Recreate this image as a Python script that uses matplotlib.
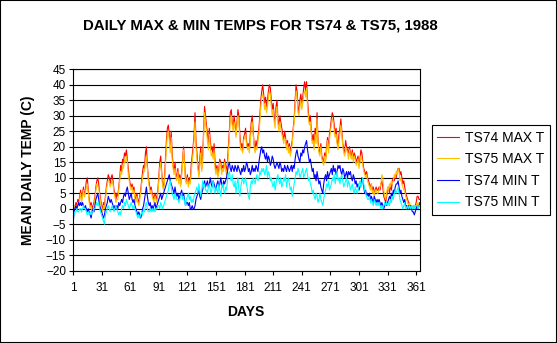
import numpy as np
import matplotlib
matplotlib.use("Agg")
from matplotlib import pyplot as plt
from matplotlib.patches import Rectangle

plt.rcParams["font.family"] = ["Liberation Sans", "DejaVu Sans"]

# daily values, day 1..365
ts74_max = [
    0, 1, 0, 2, 1, 3, 2, 4, 6, 3, 5, 7, 4, 6, 9, 10, 6, 3, 1, 2,
    0, 1, 2, 4, 7, 9, 10, 8, 5, 3, 1, 0, 2, 1, 4, 7, 9, 11, 10, 8,
    10, 11, 9, 6, 5, 3, 5, 4, 7, 10, 14, 12, 16, 15, 18, 17, 19, 16, 13, 10,
    8, 7, 8, 6, 7, 4, 3, 5, 3, 2, 4, 6, 9, 12, 14, 13, 18, 20, 14, 10,
    8, 6, 7, 5, 4, 3, 5, 4, 3, 6, 10, 15, 17, 12, 8, 7, 10, 16, 22, 26,
    27, 24, 20, 25, 18, 14, 12, 15, 11, 10, 13, 9, 11, 8, 12, 16, 20, 15, 10, 9,
    11, 8, 10, 9, 14, 17, 20, 24, 31, 22, 18, 14, 11, 16, 20, 13, 17, 25, 33, 30,
    27, 24, 21, 26, 22, 19, 20, 17, 21, 15, 12, 14, 11, 13, 16, 15, 12, 14, 13, 16,
    14, 12, 15, 20, 25, 31, 32, 28, 26, 30, 27, 24, 28, 32, 30, 24, 20, 21, 19, 23,
    24, 26, 22, 20, 21, 19, 24, 28, 30, 25, 21, 19, 22, 20, 23, 26, 30, 35, 38, 40,
    37, 34, 36, 33, 35, 38, 40, 39, 35, 32, 34, 30, 28, 33, 35, 29, 27, 30, 28, 26,
    24, 22, 25, 23, 20, 22, 19, 21, 18, 20, 22, 26, 29, 35, 40, 38, 33, 31, 35, 37,
    34, 36, 39, 41, 38, 41, 35, 31, 28, 30, 25, 22, 24, 20, 26, 23, 31, 22, 19, 18,
    21, 17, 16, 15, 18, 16, 20, 23, 19, 24, 26, 29, 31, 30, 27, 24, 26, 22, 20, 24,
    26, 29, 25, 21, 19, 18, 22, 20, 19, 18, 20, 18, 17, 19, 16, 18, 17, 15, 16, 17,
    14, 16, 19, 18, 15, 13, 12, 11, 12, 10, 9, 8, 7, 8, 6, 7, 5, 6, 7, 6,
    6, 7, 6, 8, 9, 7, 4, 3, 2, 4, 6, 7, 5, 8, 6, 9, 10, 9, 11, 10,
    12, 13, 13, 11, 12, 10, 8, 9, 7, 5, 4, 3, 2, 1, 1, 1, 0, 1, 0, 1,
    2, 4, 4, 3, 3,
]
ts75_max = [
    -1, 0, 1, 1, 0, 2, 1, 3, 5, 2, 4, 6, 4, 5, 7, 8, 5, 2, 0, 1,
    -1, 0, 1, 3, 6, 8, 7, 7, 4, 2, 0, -1, 1, 0, 3, 6, 8, 9, 9, 7,
    8, 9, 8, 5, 4, 2, 3, 3, 6, 9, 12, 11, 14, 13, 16, 15, 17, 15, 11, 9,
    7, 6, 7, 5, 6, 3, 2, 4, 2, 1, 3, 5, 8, 10, 12, 12, 15, 17, 13, 9,
    7, 5, 6, 4, 3, 2, 4, 3, 2, 5, 9, 13, 15, 11, 7, 6, 9, 14, 20, 24,
    25, 22, 18, 23, 16, 13, 11, 13, 10, 9, 12, 8, 10, 7, 11, 15, 19, 14, 9, 8,
    10, 7, 9, 8, 12, 15, 18, 22, 28, 20, 16, 13, 10, 14, 18, 12, 15, 23, 31, 28,
    25, 22, 19, 24, 20, 17, 18, 16, 19, 13, 11, 13, 10, 12, 15, 14, 11, 13, 12, 15,
    13, 11, 13, 18, 23, 29, 30, 27, 25, 28, 26, 23, 27, 30, 28, 22, 19, 19, 18, 22,
    23, 24, 21, 19, 20, 18, 22, 26, 28, 24, 20, 18, 20, 19, 22, 24, 28, 33, 36, 37,
    35, 32, 34, 31, 33, 36, 38, 37, 33, 30, 32, 28, 26, 31, 33, 27, 25, 28, 26, 24,
    23, 21, 23, 22, 19, 21, 18, 20, 17, 19, 21, 25, 28, 33, 38, 36, 31, 30, 33, 35,
    32, 34, 37, 38, 36, 39, 33, 29, 27, 28, 24, 21, 22, 19, 24, 21, 29, 21, 18, 17,
    20, 16, 15, 14, 17, 15, 19, 22, 18, 22, 25, 27, 29, 28, 25, 23, 24, 21, 19, 22,
    24, 27, 24, 20, 18, 17, 20, 19, 18, 16, 19, 17, 16, 18, 15, 17, 16, 14, 15, 16,
    13, 15, 17, 16, 14, 12, 11, 10, 11, 9, 8, 7, 6, 8, 5, 6, 4, 6, 6, 5,
    5, 6, 7, 8, 11, 10, 6, 4, 3, 5, 7, 6, 8, 7, 9, 8, 9, 11, 10, 12,
    11, 13, 12, 9, 10, 8, 7, 6, 6, 4, 3, 2, 1, 2, 1, 1, 0, 1, 1, 0,
    1, 2, 1, 2, 2,
]
ts74_min = [
    -6, -1, 0, 1, 0, 1, 2, 1, 2, 1, 2, 1, 0, 1, 0, -1, 0, -1, -2, -3,
    -1, 0, -1, 1, 3, 4, 5, 3, 1, 0, -1, -2, -3, -2, 0, 1, 2, 4, 3, 2,
    3, 2, 1, 0, 1, 0, 1, 0, 2, 1, 2, 3, 2, 4, 5, 4, 6, 7, 5, 3,
    4, 5, 3, 2, 3, 1, 0, -1, -2, -1, -2, -3, -2, 0, 1, 3, 5, 7, 4, 2,
    1, 2, 0, 1, 0, 1, 2, 0, 1, 2, 3, 4, 5, 3, 4, 5, 6, 7, 8, 9,
    10, 11, 9, 8, 7, 6, 5, 7, 5, 4, 5, 3, 4, 5, 6, 4, 5, 3, 1, 2,
    2, 1, 2, 0, 0, 1, 0, 0, 1, 3, 4, 5, 6, 4, 3, 5, 6, 8, 9, 7,
    8, 9, 7, 8, 10, 8, 7, 9, 8, 7, 6, 8, 9, 7, 8, 10, 8, 7, 9, 8,
    9, 10, 12, 14, 15, 13, 12, 14, 13, 12, 14, 13, 12, 14, 13, 12, 11, 13, 12, 14,
    12, 13, 15, 14, 12, 13, 11, 12, 14, 12, 13, 12, 14, 13, 12, 15, 17, 19, 20, 18,
    19, 17, 16, 18, 15, 17, 16, 14, 15, 17, 16, 14, 13, 14, 15, 14, 13, 15, 14, 12,
    13, 12, 14, 13, 12, 14, 13, 12, 13, 14, 12, 14, 13, 16, 18, 19, 17, 16, 15, 18,
    17, 19, 18, 20, 21, 22, 19, 17, 15, 16, 14, 12, 13, 10, 11, 9, 12, 10, 8, 9,
    7, 6, 5, 8, 10, 11, 9, 12, 10, 11, 12, 13, 11, 14, 12, 13, 11, 12, 14, 13,
    14, 12, 11, 13, 12, 10, 11, 12, 10, 12, 11, 12, 10, 9, 11, 10, 8, 9, 7, 8,
    6, 7, 8, 10, 9, 7, 5, 6, 4, 5, 4, 5, 3, 4, 3, 2, 4, 3, 2, 3,
    2, 3, 2, 1, 2, 1, 0, 1, 2, 1, 2, 3, 4, 3, 5, 4, 6, 5, 7, 8,
    8, 9, 7, 5, 6, 4, 3, 2, 3, 1, 1, 0, 1, 0, 1, 0, -1, -1, -2, -1,
    0, 1, 0, 1, 2,
]
ts75_min = [
    -3, -2, -1, -1, 0, -1, -1, 0, 0, -1, 0, 1, 0, 0, -1, -2, -1, -2, -1, -2,
    -1, -1, 0, 0, 1, 2, 1, 2, 0, -1, -2, -3, -4, -5, -2, -1, 0, 1, 0, -1,
    0, 1, 0, -1, 0, 1, 0, -1, -2, -1, -2, 0, 1, 0, 2, 1, 3, 2, 1, 0,
    1, 2, 1, 0, 1, 0, -1, -2, -3, -2, -3, -2, -1, -2, 0, -1, 1, 2, 0, -1,
    -1, 0, -1, 0, -1, 0, -1, 0, 0, 1, 1, 0, 2, 1, 0, 1, 2, 3, 4, 5,
    6, 8, 9, 7, 5, 4, 3, 5, 4, 3, 3, 2, 3, 4, 5, 3, 4, 2, 1, 3,
    4, 5, 3, 4, 2, 3, 2, 4, 5, 6, 7, 5, 8, 6, 4, 6, 9, 7, 8, 6,
    6, 5, 7, 8, 6, 5, 7, 9, 6, 5, 7, 6, 5, 8, 6, 4, 7, 8, 6, 5,
    7, 6, 9, 11, 12, 10, 9, 11, 8, 7, 9, 5, 8, 10, 6, 4, 7, 9, 10, 8,
    9, 10, 8, 6, 4, 3, 7, 9, 8, 10, 9, 8, 10, 11, 9, 10, 12, 11, 13, 12,
    13, 11, 12, 14, 10, 12, 11, 9, 10, 8, 7, 9, 6, 8, 10, 11, 9, 8, 10, 7,
    8, 10, 9, 11, 7, 9, 10, 8, 6, 7, 4, 6, 8, 10, 12, 11, 13, 12, 10, 11,
    12, 13, 10, 11, 12, 13, 11, 9, 10, 8, 7, 5, 6, 4, 3, 5, 4, 2, 3, 5,
    3, 2, 1, 3, 5, 6, 8, 7, 9, 6, 7, 8, 10, 9, 11, 8, 10, 12, 9, 10,
    8, 10, 11, 9, 7, 8, 9, 10, 7, 9, 8, 6, 7, 8, 6, 5, 7, 6, 5, 6,
    8, 9, 7, 8, 10, 8, 6, 5, 4, 3, 3, 4, 2, 3, 2, 1, 3, 2, 1, 2,
    1, 2, 1, 0, 1, 0, 1, 2, 1, 2, 1, 2, 1, 3, 2, 4, 3, 5, 6, 5,
    6, 7, 5, 3, 2, 1, 0, 1, 2, 0, 0, 1, 0, 1, 0, 1, 0, 1, 0, 1,
    1, 1, 0, 1, 1,
]
labels = ["TS74 MAX T", "TS75 MAX T", "TS74 MIN T", "TS75 MIN T"]
colors = ["#FF0000", "#FFC000", "#0000FF", "#00FFFF"]
day_ticks = list(range(1, 362, 30))
temp_ticks = list(range(-20, 46, 5))

W, H = 557, 343
fig = plt.figure(figsize=(W / 100, H / 100), dpi=100)
ax = fig.add_axes([73 / W, 1 - 270.7 / H, 347 / W, 201.4 / H])

days = np.arange(1, len(ts74_max) + 1)
for series, lab, col in zip([ts74_max, ts75_max, ts74_min, ts75_min], labels, colors):
    ax.plot(days, series, color=col, lw=0.8, label=lab)

ax.set_xlim(1, len(days))
ax.set_ylim(-20, 45)
ax.set_yticks(temp_ticks)
ax.set_xticks(day_ticks)
ax.set_xticklabels([str(d) for d in day_ticks])
ax.tick_params(direction="out", length=3, width=0.8, labelsize=8.5, pad=2)
ax.tick_params(axis="x", pad=5)
ax.yaxis.grid(True, color="black", lw=0.8)
ax.set_axisbelow(True)
for sp in ax.spines.values():
    sp.set_color("black")
    sp.set_linewidth(0.8)

fig.text(260 / W, 1 - 25.5 / H, "DAILY MAX & MIN TEMPS FOR TS74 & TS75, 1988",
         ha="center", va="center", fontsize=10.8, fontweight="bold")
fig.text(28 / W, 1 - 170 / H, "MEAN DAILY TEMP (C)", rotation=90,
         ha="center", va="center", fontsize=10, fontweight="bold")
fig.text(246 / W, 1 - 312 / H, "DAYS", ha="center", va="center",
         fontsize=10, fontweight="bold")

leg = ax.legend(loc="upper left", bbox_to_anchor=(431.7 / W, 1 - 125 / H),
                bbox_transform=fig.transFigure, fontsize=10, frameon=True,
                fancybox=False, framealpha=1, edgecolor="black",
                borderpad=0.4, labelspacing=0.55, handlelength=1.6,
                handletextpad=0.4, borderaxespad=0)
leg.get_frame().set_linewidth(0.8)

fig.patches.append(Rectangle((0, 0), 1, 1, transform=fig.transFigure,
                             fill=False, edgecolor="black", lw=1.5))

fig.savefig("out.png", dpi=100)
